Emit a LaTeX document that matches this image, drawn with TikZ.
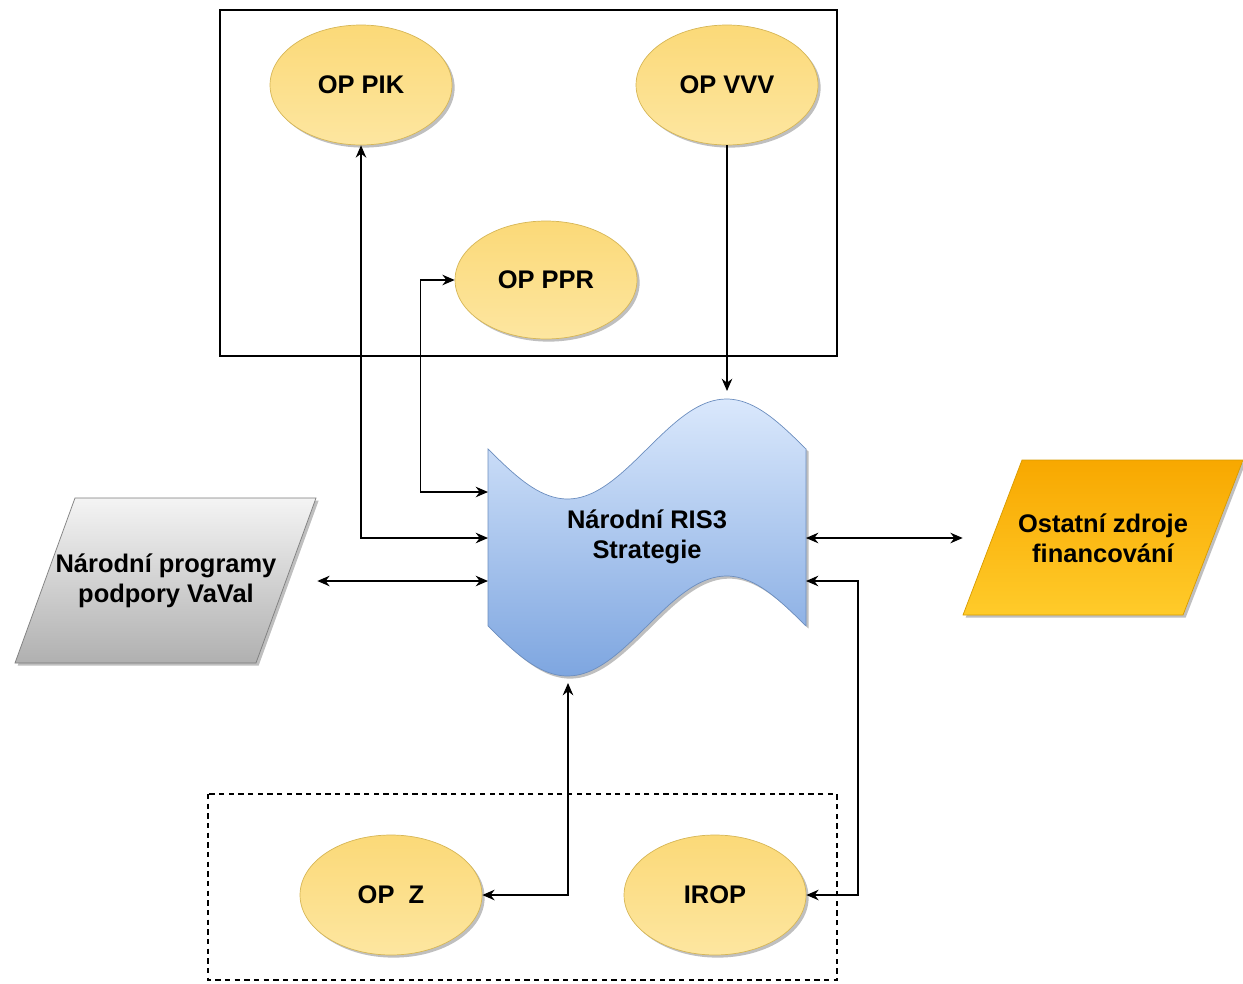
\documentclass[tikz,border=0pt]{standalone}
\usepackage{fontspec}
\setmainfont{Liberation Sans}
\usetikzlibrary{arrows.meta,shapes.geometric,shadows}

\definecolor{optop}{HTML}{FBD978}
\definecolor{opbot}{HTML}{FDE6A0}
\definecolor{opline}{HTML}{D6B656}
\definecolor{ristop}{HTML}{DAE8FC}
\definecolor{risbot}{HTML}{7EA6E0}
\definecolor{risline}{HTML}{6C8EBF}
\definecolor{ostop}{HTML}{F8A800}
\definecolor{osbot}{HTML}{FFCB2A}
\definecolor{osline}{HTML}{D79B00}
\definecolor{grtop}{HTML}{F4F4F4}
\definecolor{grbot}{HTML}{B0B0B0}
\definecolor{grline}{HTML}{7A7A7A}

\begin{document}
\begin{tikzpicture}[x=0.02cm,y=-0.02cm,
        font=\fontsize{14.5}{17}\selectfont\bfseries,
        >={Stealth[length=7pt,width=6pt]},
        softshadow/.style={drop shadow={shadow xshift=1.5pt,shadow yshift=-1.5pt,opacity=0.25,fill=black}},
        op/.style={ellipse, draw=opline, top color=optop, bottom color=opbot,
            minimum width=3.64cm, minimum height=2.4cm, inner sep=0pt, softshadow},
        link/.style={line width=0.85pt}]
        \useasboundingbox (0,0) rectangle (1243,983);

        % Groups
        \draw[line width=0.8pt] (220,10) rectangle (837,356);
        \draw[line width=0.8pt, dash pattern=on 3pt off 2.5pt] (208,794) rectangle (837,980);

        % Operational programmes
        \node[op] (pik) at (361,85) {OP PIK};
        \node[op] (vvv) at (727,85) {OP VVV};
        \node[op, minimum height=2.36cm] (ppr) at (546,280) {OP PPR};
        \node[op] (opz) at (391,895) {OP\ \ Z};
        \node[op] (irop) at (715,895) {IROP};

        % Strategy (tape)
        \shadedraw[draw=risline, top color=ristop, bottom color=risbot, softshadow]
        plot[domain=488:806,samples=80] (\x,{449+50*sin(1.13208*(\x-488))})
        -- plot[domain=806:488,samples=80] (\x,{626+50*sin(1.13208*(\x-488))}) -- cycle;
        \node[align=center, minimum width=6.36cm, minimum height=3.54cm] (ris) at (647,537) {Národní RIS3\\Strategie};
        \coordinate (risT) at (727,391);
        \coordinate (risB) at (568,683);
        \coordinate (risL1) at (488,492);
        \coordinate (risL2) at (488,538);
        \coordinate (risL3) at (488,581);
        \coordinate (risR1) at (806,538);
        \coordinate (risR2) at (806,581);

        % Other sources
        \shadedraw[draw=grline, top color=grtop, bottom color=grbot, softshadow]
        (75,498) -- (316,498) -- (256,663) -- (15,663) -- cycle;
        \node[align=center, minimum width=6.04cm, minimum height=3.3cm] (vaval) at (166,581) {Národní programy\\podpory VaVal};
        \shadedraw[draw=osline, top color=ostop, bottom color=osbot, softshadow]
        (1022,460) -- (1243,460) -- (1183,615) -- (963,615) -- cycle;
        \node[align=center, minimum width=5.6cm, minimum height=3.1cm] (ost) at (1103,538) {Ostatní zdroje\\financování};

        % Connectors
        \draw[link,<->] (pik.south) |- (risL2);
        \draw[link,<->] (ppr.west) -- ++(-34,0) |- (risL1);
        \draw[link,->] (vvv.south) -- (risT);
        \draw[link,<->] (vaval.east) -- (risL3);
        \draw[link,<->] (risR1) -- (ost.west);
        \draw[link,<->] (risR2) -- ++(52,0) |- (irop.east);
        \draw[link,<->] (risB) |- (opz.east);
    \end{tikzpicture}
\end{document}
